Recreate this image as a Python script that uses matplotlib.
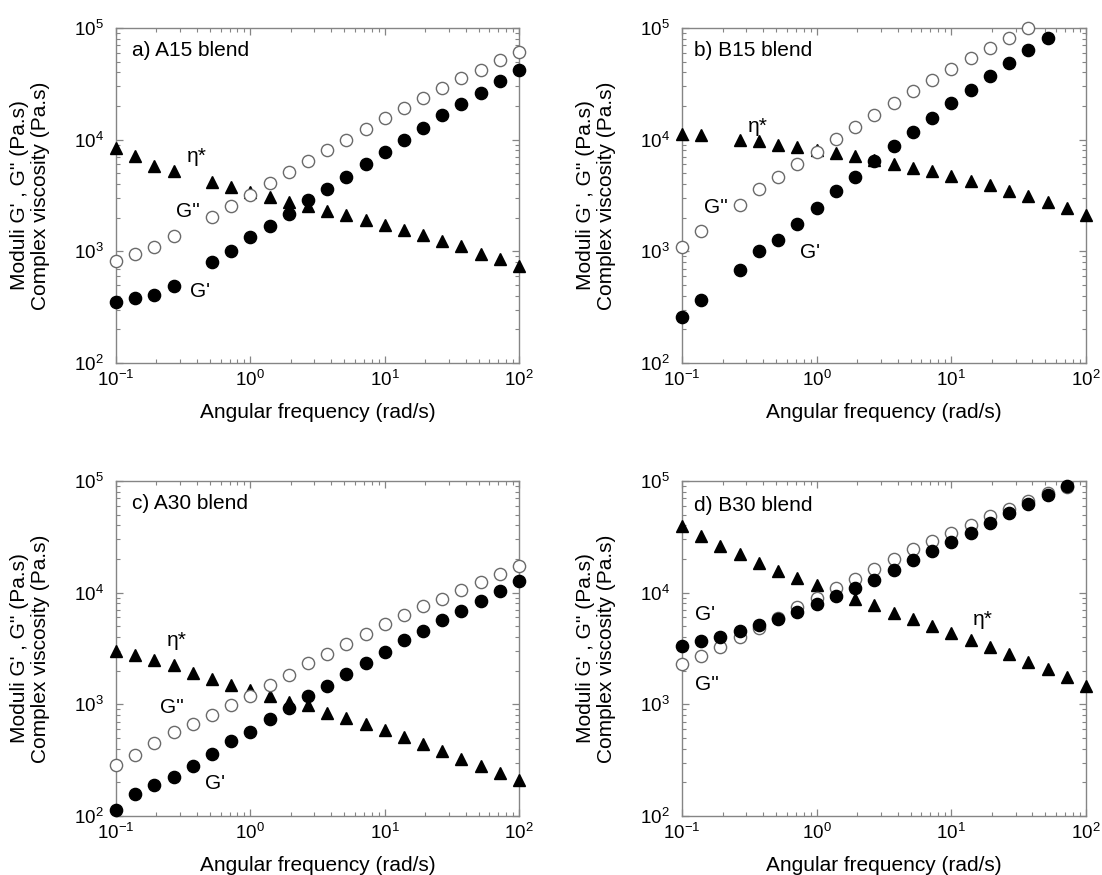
import matplotlib
matplotlib.use("Agg")
import matplotlib.pyplot as plt
from matplotlib.ticker import LogLocator, NullFormatter

plt.rcParams['font.family'] = ['Liberation Sans', 'DejaVu Sans']
plt.rcParams['mathtext.fontset'] = 'custom'
plt.rcParams['mathtext.rm'] = 'Liberation Sans'
plt.rcParams['mathtext.it'] = 'Liberation Sans:italic'
plt.rcParams['mathtext.bf'] = 'Liberation Sans:bold'

# ---------------- data ----------------
FREQ_ALL = [0.1, 0.139, 0.193, 0.268, 0.373, 0.518, 0.720, 1.0, 1.39, 1.93, 2.68,
            3.73, 5.18, 7.20, 10.0, 13.9, 19.3, 26.8, 37.3, 51.8, 72.0, 100.0]

# a) A15 blend (0.373 rad/s missing)
A15_freq = [0.1, 0.139, 0.193, 0.268, 0.518, 0.720, 1.0, 1.39, 1.93, 2.68,
            3.73, 5.18, 7.20, 10.0, 13.9, 19.3, 26.8, 37.3, 51.8, 72.0, 100.0]
A15_Gp = [354, 385, 409, 494, 803, 1000, 1334, 1671, 2148, 2884, 3637, 4656, 6030,
          7762, 10000, 12700, 16480, 20900, 26400, 33500, 42300]
A15_Gpp = [815, 946, 1094, 1361, 2050, 2564, 3190, 4055, 5117, 6457, 8090, 10000,
           12530, 15600, 19270, 23660, 29040, 35420, 42300, 51200, 61500]
A15_eta = [8440, 7110, 5840, 5230, 4140, 3740, 3400, 3090, 2790, 2570, 2320, 2120,
           1910, 1730, 1560, 1410, 1250, 1110, 953, 855, 746]

# b) B15 blend (0.193 rad/s missing)
B15_freq = [0.1, 0.139, 0.268, 0.373, 0.518, 0.720, 1.0, 1.39, 1.93, 2.68,
            3.73, 5.18, 7.20, 10.0, 13.9, 19.3, 26.8, 37.3, 51.8, 72.0, 100.0]
B15_Gp = [256, 367, 681, 1000, 1262, 1766, 2454, 3458, 4643, 6410, 8710, 11700,
          15600, 21100, 27900, 37250, 48700, 63200, 82000]
B15_Gpp = [1100, 1520, 2590, 3580, 4610, 6030, 7710, 10100, 13000, 16700, 21400,
           27000, 34400, 43100, 53600, 65800, 82000, 99000]
B15_eta = [11320, 11000, 10000, 9660, 9020, 8660, 8040, 7610, 7100, 6540, 6060,
           5590, 5210, 4700, 4300, 3910, 3505, 3120, 2760, 2420, 2110]

# c) A30 blend
A30_freq = FREQ_ALL
A30_Gp = [114, 156, 188, 224, 280, 361, 470, 565, 734, 934, 1188, 1470, 1857, 2362,
          2943, 3741, 4538, 5654, 6853, 8420, 10350, 12700]
A30_Gpp = [288, 354, 454, 565, 662, 797, 993, 1188, 1500, 1845, 2346, 2844, 3493,
           4295, 5275, 6350, 7550, 8840, 10490, 12470, 14800, 17340]
A30_eta = [2985, 2750, 2513, 2266, 1909, 1698, 1500, 1334, 1180, 1050, 980, 836,
           755, 671, 585, 510, 444, 382, 326, 280, 244, 208]

# d) B30 blend
B30_freq = FREQ_ALL
B30_Gp = [3319, 3675, 4018, 4516, 5110, 5820, 6670, 7920, 9270, 11010, 13070, 15820,
          19440, 23400, 28330, 34570, 42460, 51440, 62350, 75000, 90800]
B30_Gpp = [2276, 2702, 3275, 4018, 4838, 5945, 7450, 8960, 11010, 13340, 16260,
           19990, 24720, 29110, 34340, 40460, 48400, 56280, 66700, 77600, 87700]
B30_eta = [39630, 32290, 26300, 22150, 18410, 15720, 13520, 11620, 10140, 8780, 7710,
           6580, 5860, 5004, 4360, 3800, 3295, 2795, 2404, 2052, 1766, 1458]

PANELS = [
    ("a) A15 blend", A15_freq, A15_Gp, A15_Gpp, A15_eta,
     [("η*", 0.40, 7100), ("G''", 0.345, 2280), ("G'", 0.42, 438)], 0.039, 0.934),
    ("b) B15 blend", B15_freq, B15_Gp, B15_Gpp, B15_eta,
     [("η*", 0.367, 13100), ("G''", 0.18, 2450), ("G'", 0.89, 973)], 0.029, 0.934),
    ("c) A30 blend", A30_freq, A30_Gp, A30_Gpp, A30_eta,
     [("η*", 0.283, 3740), ("G''", 0.26, 946), ("G'", 0.544, 195)], 0.039, 0.933),
    ("d) B30 blend", B30_freq, B30_Gp, B30_Gpp, B30_eta,
     [("η*", 17.1, 5740), ("G''", 0.152, 1510), ("G'", 0.1475, 6370)], 0.029, 0.927),
]

W, H = 1102, 875
fig = plt.figure(figsize=(W / 100, H / 100), dpi=100)

boxes = [(116, 28, 519, 363), (682, 28, 1086, 363),
         (116, 481, 519, 816), (682, 481, 1086, 816)]

FRAME = '#858585'
FS = 15
TFS = 13.5

for (title, fr, gp, gpp, eta, notes, tx, ty), (l, t, r, b) in zip(PANELS, boxes):
    ax = fig.add_axes([l / W, 1 - b / H, (r - l) / W, (b - t) / H])
    ax.set_xscale('log')
    ax.set_yscale('log')
    ax.set_xlim(0.1, 100)
    ax.set_ylim(100, 1e5)

    ax.plot(fr[:len(eta)], eta, linestyle='none', marker='^', ms=8.5,
            color='black', clip_on=False, zorder=3)
    ax.plot(fr[:len(gpp)], gpp, linestyle='none', marker='o', ms=8.8,
            markerfacecolor='white', markeredgecolor='#6a6a6a', mew=1.0,
            clip_on=False, zorder=4)
    ax.plot(fr[:len(gp)], gp, linestyle='none', marker='o', ms=8.8,
            color='black', clip_on=False, zorder=5)

    for s, x, y in notes:
        ax.text(x, y, s, fontsize=FS, ha='center', va='center', zorder=6)
    ax.text(tx, ty, title, transform=ax.transAxes, fontsize=FS,
            ha='left', va='center')

    for sp in ax.spines.values():
        sp.set_color(FRAME)
        sp.set_linewidth(1.0)
    ax.xaxis.set_major_locator(LogLocator(base=10, numticks=10))
    ax.yaxis.set_major_locator(LogLocator(base=10, numticks=10))
    ax.xaxis.set_minor_locator(LogLocator(base=10, subs=range(2, 10), numticks=20))
    ax.yaxis.set_minor_locator(LogLocator(base=10, subs=range(2, 10), numticks=20))
    ax.xaxis.set_minor_formatter(NullFormatter())
    ax.yaxis.set_minor_formatter(NullFormatter())
    ax.tick_params(which='both', direction='in', top=True, right=True,
                   color=FRAME, labelcolor='black', labelsize=TFS)
    ax.tick_params(which='major', length=5, width=0.9)
    ax.tick_params(which='minor', length=2.8, width=0.8)
    ax.tick_params(axis='x', which='major', pad=5)
    ax.tick_params(axis='y', which='major', pad=9)

    ax.set_xlabel("Angular frequency (rad/s)", fontsize=FS)
    ax.xaxis.set_label_coords(0.5, -0.149)
    ax.xaxis.label.set_va('center')
    ax.set_ylabel("Moduli G' , G'' (Pa.s)\nComplex viscosity (Pa.s)",
                  fontsize=FS, linespacing=1.1)
    ax.yaxis.set_label_coords(-0.213, 0.5)
    ax.yaxis.label.set_va('center')

fig.savefig("out.png", dpi=100)
